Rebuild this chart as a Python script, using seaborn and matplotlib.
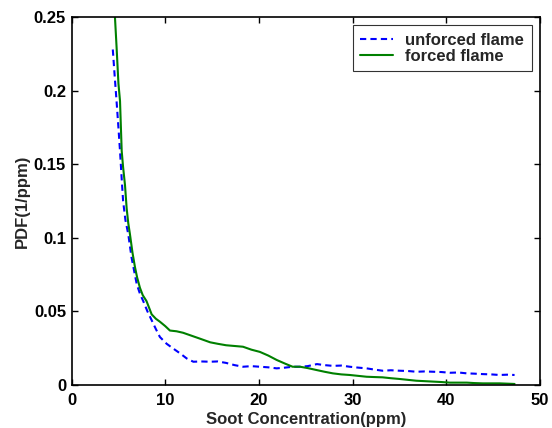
import matplotlib
matplotlib.use("Agg")
import matplotlib.pyplot as plt
import seaborn as sns
import pandas as pd

unforced_x = [4.4, 4.6, 4.8, 5.0, 5.17, 5.35, 5.5, 5.75, 6.05, 6.4, 6.95, 7.3, 7.65, 8.1, 8.55, 9.0, 9.43,
              10.15, 10.8, 11.6, 12.3, 13.0, 13.8, 14.8, 15.6, 16.5, 17.4, 18.3, 19.2, 20.1, 21.0, 21.9, 22.8,
              23.6, 24.4, 25.2, 26.2, 27.0, 27.9, 28.8, 29.7, 30.6, 31.5, 32.3, 33.2, 34.1, 35.0, 35.9, 36.8,
              37.7, 38.6, 39.5, 40.4, 41.3, 42.2, 43.0, 43.9, 44.8, 45.7, 46.5, 47.3]
unforced_y = [0.228, 0.21, 0.193, 0.175, 0.159, 0.14, 0.125, 0.112, 0.1025, 0.0867, 0.0687, 0.062, 0.057,
              0.05, 0.044, 0.038, 0.0326, 0.028, 0.025, 0.0214, 0.018, 0.0158, 0.016, 0.0158, 0.016, 0.015,
              0.0135, 0.0124, 0.0128, 0.0124, 0.012, 0.0113, 0.0118, 0.0124, 0.0124, 0.0128, 0.0142, 0.0135,
              0.013, 0.0132, 0.0124, 0.0118, 0.0113, 0.0105, 0.0097, 0.010, 0.0097, 0.0095, 0.009, 0.0092,
              0.009, 0.0088, 0.0083, 0.0085, 0.0079, 0.0077, 0.0074, 0.0072, 0.0068, 0.007, 0.0068]

forced_x = [4.55, 4.63, 4.8, 5.0, 5.17, 5.35, 5.5, 5.7, 5.88, 6.05, 6.23, 6.5, 6.77, 7.0, 7.3, 7.6, 8.0,
            8.55, 9.0, 9.43, 10.0, 10.5, 11.2, 11.9, 12.8, 13.7, 14.8, 15.6, 16.5, 17.4, 18.3, 19.2, 20.1,
            21.0, 21.9, 22.8, 23.6, 24.4, 25.2, 26.2, 27.0, 27.9, 28.8, 29.7, 30.6, 31.5, 32.3, 33.2, 34.1,
            35.0, 35.9, 36.8, 37.7, 38.6, 39.5, 40.4, 41.3, 42.2, 43.0, 43.9, 44.8, 45.7, 46.5, 47.3]
forced_y = [0.26, 0.25, 0.23, 0.205, 0.193, 0.159, 0.148, 0.136, 0.12, 0.11, 0.1025, 0.09, 0.08, 0.073,
            0.066, 0.061, 0.057, 0.048, 0.045, 0.043, 0.04, 0.037, 0.0365, 0.0355, 0.0335, 0.0315, 0.029,
            0.028, 0.027, 0.0265, 0.026, 0.024, 0.0225, 0.02, 0.017, 0.0145, 0.0124, 0.0124, 0.0115, 0.0101,
            0.009, 0.0079, 0.0072, 0.0068, 0.0062, 0.0056, 0.0054, 0.0052, 0.0046, 0.0041, 0.0035, 0.0029,
            0.0026, 0.0023, 0.002, 0.0016, 0.0016, 0.0016, 0.0013, 0.0011, 0.0011, 0.0011, 0.0009, 0.0007]

labels = ["unforced flame", "forced flame"]

df = pd.concat([
    pd.DataFrame({"x": unforced_x, "y": unforced_y, "series": labels[0]}),
    pd.DataFrame({"x": forced_x, "y": forced_y, "series": labels[1]}),
])

sns.set_theme(style="white")
plt.rcParams['font.family'] = ['Liberation Sans', 'DejaVu Sans']
plt.rcParams['font.weight'] = 'bold'

fs = 12
fig = plt.figure(figsize=(5.52, 4.28), dpi=100)
ax = fig.add_axes([0.1297, 0.1005, 0.8483, 0.8595])

sns.lineplot(data=df, x="x", y="y", hue="series", style="series",
             palette={labels[0]: "#0000ff", labels[1]: "#008000"},
             dashes={labels[0]: (3, 2), labels[1]: ""},
             linewidth=1.5, sort=False, estimator=None, ax=ax)

ax.set_xlim(0, 50)
ax.set_ylim(0, 0.25)
ax.set_xticks([0, 10, 20, 30, 40, 50])
ax.set_yticks([0, 0.05, 0.1, 0.15, 0.2, 0.25])
ax.set_yticklabels(["0", "0.05", "0.1", "0.15", "0.2", "0.25"])
ax.set_xlabel("Soot Concentration(ppm)", fontsize=fs, fontweight='bold', labelpad=3)
ax.set_ylabel("PDF(1/ppm)", fontsize=fs, fontweight='bold', labelpad=3)
ax.tick_params(direction='in', length=4, width=1, top=True, right=True, bottom=True, left=True,
               labelsize=fs, colors='black')
ax.tick_params(axis='x', pad=6)
ax.tick_params(axis='y', pad=4)
for lab in ax.get_xticklabels() + ax.get_yticklabels():
    lab.set_fontweight('bold')
for s in ax.spines.values():
    s.set_color('black')
    s.set_linewidth(1.2)

leg = ax.legend(loc='upper right', fontsize=fs, frameon=True, fancybox=False,
                edgecolor='black', borderpad=0.45, handlelength=2.0, handletextpad=0.7,
                labelspacing=0.05, borderaxespad=0.5, bbox_to_anchor=(1, 1))
leg.get_frame().set_linewidth(0.8)
for t in leg.get_texts():
    t.set_fontweight('bold')

fig.savefig("out.png", dpi=100)
